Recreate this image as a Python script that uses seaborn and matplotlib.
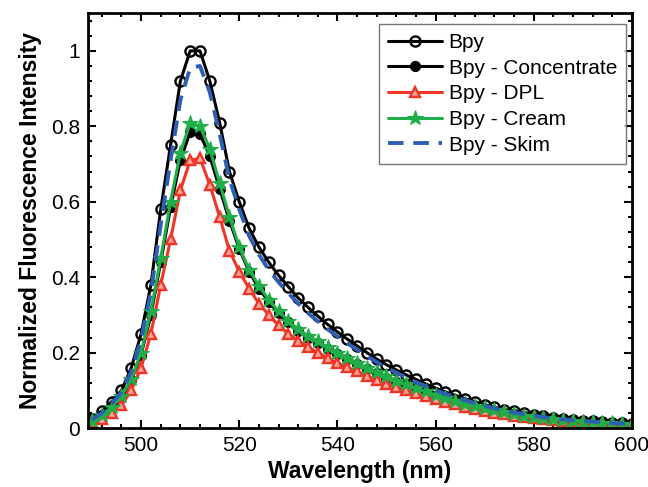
import matplotlib
matplotlib.use('Agg')
import matplotlib.pyplot as plt
import seaborn as sns
import pandas as pd
from matplotlib.ticker import MultipleLocator, FormatStrFormatter

#wavelengths (nm), one point every 2 nm
wavelength = list(range(490, 601, 2))

bpy = [0.025, 0.045, 0.07, 0.10, 0.16, 0.25, 0.38, 0.58, 0.75, 0.92, 1.0, 1.0, 0.92, 0.81, 0.68, 0.60, 0.53, 0.48,
       0.44, 0.405, 0.375, 0.345, 0.32, 0.297, 0.275, 0.255, 0.236, 0.218,
       0.2, 0.183, 0.168, 0.154, 0.141, 0.129, 0.117, 0.106, 0.096, 0.087,
       0.078, 0.07, 0.062, 0.055, 0.049, 0.044, 0.039, 0.035, 0.031, 0.028,
       0.025, 0.022, 0.02, 0.018, 0.016, 0.014, 0.013, 0.012]
concentrate = [0.02, 0.035, 0.055, 0.083, 0.128, 0.195, 0.30, 0.44, 0.585, 0.71, 0.785, 0.78, 0.72, 0.635, 0.55, 0.475, 0.415, 0.37,
               0.335, 0.305, 0.28, 0.258, 0.24, 0.225, 0.21, 0.196, 0.182, 0.169,
               0.156, 0.145, 0.134, 0.123, 0.113, 0.104, 0.095, 0.086, 0.078, 0.071,
               0.064, 0.057, 0.051, 0.046, 0.041, 0.036, 0.032, 0.029, 0.026, 0.023,
               0.021, 0.019, 0.017, 0.015, 0.014, 0.013, 0.012, 0.011]
dpl = [0.015, 0.025, 0.04, 0.06, 0.10, 0.16, 0.25, 0.38, 0.50, 0.63, 0.71, 0.715, 0.645, 0.56, 0.47, 0.415, 0.37, 0.33,
       0.30, 0.272, 0.25, 0.232, 0.215, 0.2, 0.186, 0.173, 0.161, 0.15,
       0.139, 0.128, 0.118, 0.109, 0.1, 0.092, 0.084, 0.077, 0.07, 0.063,
       0.057, 0.051, 0.046, 0.041, 0.037, 0.033, 0.03, 0.027, 0.024, 0.022,
       0.02, 0.018, 0.016, 0.014, 0.013, 0.012, 0.011, 0.01]
cream = [0.02, 0.035, 0.055, 0.085, 0.13, 0.20, 0.31, 0.45, 0.60, 0.73, 0.81, 0.80, 0.74, 0.65, 0.56, 0.48, 0.42, 0.377,
         0.34, 0.31, 0.285, 0.262, 0.245, 0.23, 0.215, 0.2, 0.186, 0.173,
         0.16, 0.148, 0.137, 0.126, 0.116, 0.106, 0.097, 0.088, 0.08, 0.072,
         0.065, 0.058, 0.052, 0.047, 0.042, 0.037, 0.033, 0.03, 0.027, 0.024,
         0.021, 0.019, 0.017, 0.015, 0.014, 0.013, 0.012, 0.011]
skim = [0.022, 0.04, 0.065, 0.095, 0.15, 0.235, 0.36, 0.54, 0.71, 0.87, 0.955, 0.96, 0.89, 0.78, 0.66, 0.58, 0.51, 0.46,
        0.42, 0.387, 0.358, 0.33, 0.305, 0.283, 0.262, 0.243, 0.225, 0.208,
        0.191, 0.175, 0.16, 0.147, 0.134, 0.122, 0.111, 0.1, 0.091, 0.082,
        0.074, 0.066, 0.059, 0.052, 0.046, 0.041, 0.037, 0.033, 0.029, 0.026,
        0.023, 0.021, 0.019, 0.017, 0.015, 0.013, 0.012, 0.011]

labels = ['Bpy', 'Bpy - Concentrate', 'Bpy - DPL', 'Bpy - Cream', 'Bpy - Skim']

sns.set_style('ticks')
plt.rcParams['font.family'] = ['Liberation Sans', 'DejaVu Sans']
plt.rcParams['text.color'] = 'black'
plt.rcParams['axes.labelcolor'] = 'black'
plt.rcParams['xtick.color'] = 'black'
plt.rcParams['ytick.color'] = 'black'

df = pd.DataFrame({'wl': wavelength, labels[0]: bpy, labels[1]: concentrate,
                   labels[2]: dpl, labels[3]: cream, labels[4]: skim})

fig = plt.figure(figsize=(6.48, 4.87), dpi=100)
ax = fig.add_axes([0.136, 0.121, 0.839, 0.852])

#line styles per series
styles = {
    labels[0]: dict(color='black', lw=2.2, marker='o', ms=7.3, mfc='none', mec='black', mew=1.7),
    labels[1]: dict(color='black', lw=2.2, marker='o', ms=7.3, mfc='black', mec='black'),
    labels[2]: dict(color='#ee3526', lw=2.2, marker='^', ms=7.8, mfc='#f6a39a', mec='#ee3526', mew=1.7),
    labels[3]: dict(color='#1fae48', lw=2.2, marker='*', ms=11.5, mfc='#1fae48', mec='#1fae48'),
    labels[4]: dict(color='#2f5fb3', lw=2.8, dashes=(4, 2.5)),
}

for lab in labels:
    sns.lineplot(data=df, x='wl', y=lab, ax=ax, label=lab, **styles[lab])

ax.set_xlim(489.2, 600)
ax.set_ylim(0, 1.1)
ax.xaxis.set_major_locator(MultipleLocator(20))
ax.xaxis.set_minor_locator(MultipleLocator(4))
ax.yaxis.set_major_locator(MultipleLocator(0.2))
ax.yaxis.set_minor_locator(MultipleLocator(0.04))
ax.yaxis.set_major_formatter(FormatStrFormatter('%g'))
ax.tick_params(which='both', direction='in', top=True, right=True, width=1.5, labelsize=15, pad=6)
ax.tick_params(which='major', length=6)
ax.tick_params(which='minor', length=3)
for sp in ax.spines.values():
    sp.set_linewidth(2)
    sp.set_color('black')

ax.set_xlabel('Wavelength (nm)', fontsize=16.5, fontweight='bold', labelpad=3)
ax.set_ylabel('Normalized Fluorescence Intensity', fontsize=16.5, fontweight='bold', labelpad=6)

leg = ax.legend(loc='upper right', fontsize=15, frameon=True, fancybox=False, handlelength=2.6,
                borderpad=0.45, labelspacing=0.32, handletextpad=0.3, borderaxespad=0,
                bbox_to_anchor=(0.99, 0.975))
leg.get_frame().set_edgecolor('#555555')
leg.get_frame().set_linewidth(1)

fig.savefig('out.png', dpi=100)
